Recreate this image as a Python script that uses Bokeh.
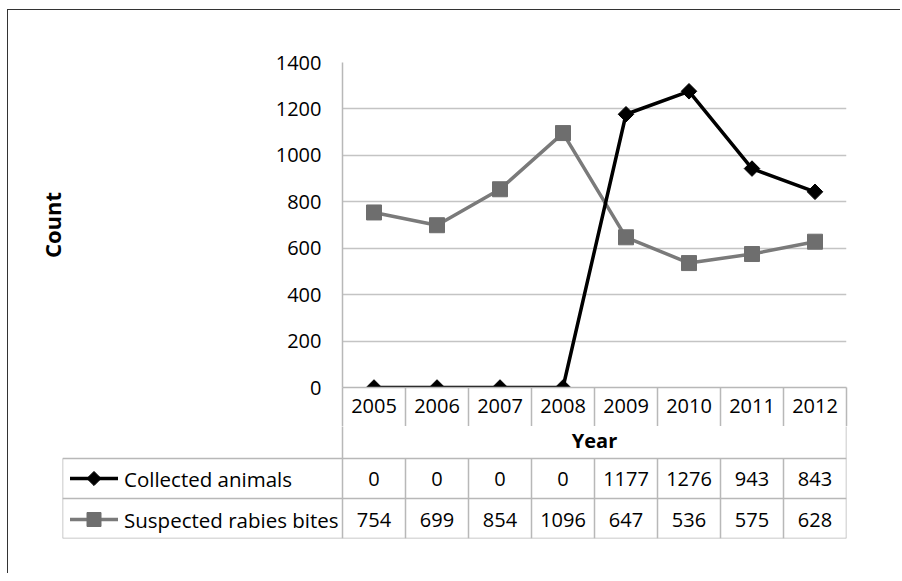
from bokeh.plotting import figure
from bokeh.layouts import column
from bokeh.models import Range1d, FixedTicker, ColumnDataSource
from bokeh.core.properties import value
from bokeh.embed import file_html
from bokeh.resources import INLINE

years = ["2005", "2006", "2007", "2008", "2009", "2010", "2011", "2012"]
collected = [0, 0, 0, 0, 1177, 1276, 943, 843]
bites = [754, 699, 854, 1096, 647, 536, 575, 628]
y_ticks = [0, 200, 400, 600, 800, 1000, 1200, 1400]
series_names = ["Collected animals", "Suspected rabies bites"]

FONT = value("Open Sans")
GRID = "#c4c4c4"
TBL = "#b8b8b8"
GRAY = "#7a7a7a"
GRAYM = "#6e6e6e"

idx = list(range(len(years)))

# ---------- chart ----------
p = figure(width=892, height=416, x_range=Range1d(-0.5, 7.5), y_range=Range1d(0, 1400),
           output_backend="svg", toolbar_location=None,
           min_border_left=334, min_border_right=54, min_border_top=52, min_border_bottom=39)
p.frame_align = False
p.outline_line_color = None
p.xgrid.visible = False
p.ygrid.grid_line_color = GRID
p.ygrid.grid_line_width = 1.5

p.yaxis.ticker = FixedTicker(ticks=y_ticks)
p.yaxis.major_tick_line_color = None
p.yaxis.minor_tick_line_color = None
p.yaxis.axis_line_color = TBL
p.yaxis.axis_line_width = 1.5
p.yaxis.major_label_standoff = 15
p.yaxis.major_label_text_font = "Open Sans"
p.yaxis.major_label_text_font_size = "20px"
p.yaxis.major_label_text_color = "black"
p.yaxis.axis_label = "Count"
p.yaxis.axis_label_text_font = "Open Sans"
p.yaxis.axis_label_text_font_size = "22px"
p.yaxis.axis_label_text_font_style = "bold"
p.yaxis.axis_label_text_color = "black"
p.yaxis.axis_label_standoff = 206

p.xaxis.ticker = FixedTicker(ticks=idx, minor_ticks=[i - 0.5 for i in idx] + [len(idx) - 0.5])
p.xaxis.major_label_overrides = {i: y for i, y in zip(idx, years)}
p.xaxis.major_tick_line_color = None
p.xaxis.major_tick_out = 0
p.xaxis.major_tick_in = 0
p.xaxis.minor_tick_line_color = TBL
p.xaxis.minor_tick_line_width = 1.5
p.xaxis.minor_tick_out = 39
p.xaxis.minor_tick_in = 0
p.xaxis.axis_line_color = TBL
p.xaxis.axis_line_width = 1.5
p.xaxis.major_label_standoff = -28
p.xaxis.major_label_text_font = "Open Sans"
p.xaxis.major_label_text_font_size = "20px"
p.xaxis.major_label_text_color = "black"

src = ColumnDataSource(dict(x=idx, collected=collected, bites=bites))
p.line("x", "bites", source=src, line_color=GRAY, line_width=3.5)
p.scatter("x", "bites", source=src, marker="square", size=15, fill_color=GRAYM, line_color=GRAYM)
p.line("x", "collected", source=src, line_color="black", line_width=3.5)
p.scatter("x", "collected", source=src, marker="square", angle=0.785398, size=11,
          fill_color="black", line_color="black")

# ---------- data table ----------
cw = 504 / 8.0
x0 = -0.5 - (342.5 - 62.5) / cw


def px(v):
    return x0 + (v - 62.5) / cw


t = figure(width=892, height=147, x_range=Range1d(x0, 7.5), y_range=Range1d(115, 3),
           output_backend="svg", toolbar_location=None, x_axis_location=None, y_axis_location=None,
           min_border_left=54, min_border_right=54, min_border_top=0, min_border_bottom=35)
t.frame_align = False
t.outline_line_color = None
t.grid.visible = False

inner = [i + 0.5 for i in idx[:-1]]
sx0 = [-0.5, 7.5] + inner + [x0, x0, x0, x0]
sy0 = [0, 0] + [35] * 7 + [35, 35, 75, 115]
sx1 = [-0.5, 7.5] + inner + [x0, 7.5, 7.5, 7.5]
sy1 = [115, 115] + [115] * 7 + [115, 35, 75, 115]
t.segment(x0=sx0, y0=sy0, x1=sx1, y1=sy1, line_color=TBL, line_width=1.5)

t.text(x=[3.5], y=[17], text=["Year"], text_font=FONT, text_font_size="20px",
       text_font_style="bold", text_align="center", text_baseline="middle", text_color="black")
t.text(x=idx, y=[55] * 8, text=[str(v) for v in collected], text_font=FONT, text_font_size="20px",
       text_align="center", text_baseline="middle", text_color="black")
t.text(x=idx, y=[96] * 8, text=[str(v) for v in bites], text_font=FONT, text_font_size="20px",
       text_align="center", text_baseline="middle", text_color="black")
t.text(x=[px(124), px(124)], y=[55, 96], text=series_names, text_font=FONT, text_font_size="20.5px",
       text_align="left", text_baseline="middle", text_color="black")

# legend keys
t.segment(x0=[px(70)], y0=[55], x1=[px(118)], y1=[55], line_color="black", line_width=3.5)
t.scatter(x=[px(94)], y=[55], marker="square", angle=0.785398, size=10, fill_color="black", line_color="black")
t.segment(x0=[px(70)], y0=[96], x1=[px(118)], y1=[96], line_color=GRAY, line_width=3.5)
t.scatter(x=[px(94)], y=[96], marker="square", size=14, fill_color=GRAYM, line_color=GRAYM)

layout = column(p, t, spacing=0, margin=(9, 0, 0, 7),
                styles={"border-left": "1.5px solid #333", "border-top": "1.5px solid #333"})

open("out.html", "w").write(file_html(layout, INLINE))
